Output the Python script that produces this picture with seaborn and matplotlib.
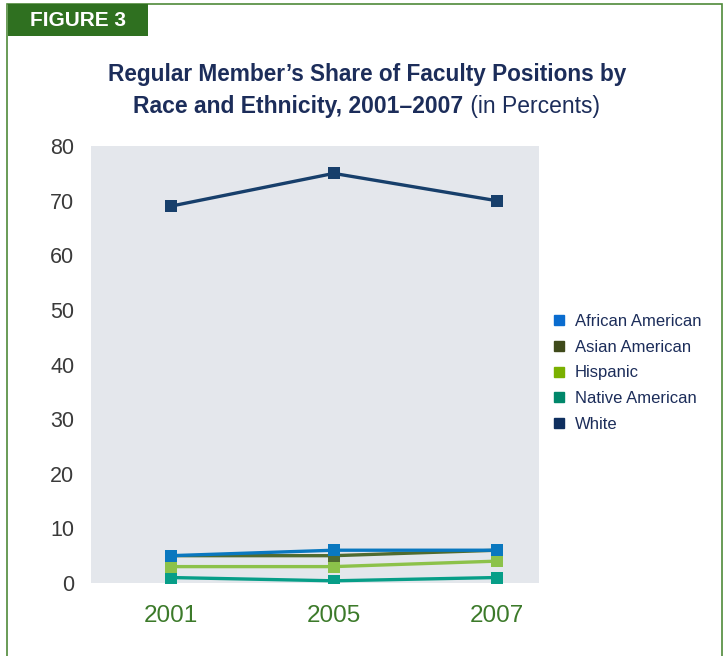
import numpy as np
import pandas as pd
import matplotlib.pyplot as plt
import seaborn as sns
from matplotlib.lines import Line2D
from matplotlib.patches import Rectangle

years = ["2001", "2005", "2007"]
groups = ["African American", "Asian American", "Hispanic", "Native American", "White"]
african_american = [5, 6, 6]
asian_american = [5, 5, 6]
hispanic = [3, 3, 4]
native_american = [1, 0.4, 1]
white = [69, 75, 70]

line_colors = ["#0a78bf", "#4f6b30", "#8cc24a", "#079e88", "#173f6b"]
legend_colors = ["#0a6ccf", "#3f4a1a", "#7ab000", "#00876a", "#0f2f5f"]

df = pd.DataFrame({
    "year": years * 5,
    "group": np.repeat(groups, 3),
    "share": african_american + asian_american + hispanic + native_american + white,
})

sns.set_theme(style="white")
plt.rcParams["font.family"] = ["Liberation Sans", "DejaVu Sans"]

fig = plt.figure(figsize=(7.25, 6.56), dpi=100)
ax = fig.add_axes([0.1255, 0.1113, 0.618, 0.666])
ax.set_facecolor("#e4e7ec")

# draw native first so blue/asian sit on top like the original
order = ["White", "Native American", "Hispanic", "Asian American", "African American"]
pal = dict(zip(groups, line_colors))
sns.lineplot(data=df, x="year", y="share", hue="group", hue_order=order, palette=pal,
             marker="s", markersize=9, markeredgewidth=0, linewidth=2.4, sort=False,
             legend=False, ax=ax)

ax.set_ylim(0, 80)
ax.set_xlim(-0.49, 2.26)
ax.set_yticks(range(0, 81, 10))
ax.set_xlabel("")
ax.set_ylabel("")
for s in ax.spines.values():
    s.set_visible(False)
ax.tick_params(axis="y", labelsize=15.5, labelcolor="#3a3a3a", length=0, pad=12)
ax.tick_params(axis="x", labelsize=17.5, labelcolor="#3c7a2a", length=0, pad=16)

handles = [Line2D([], [], marker="s", linestyle="none", markersize=7.5, color=c) for c in legend_colors]
leg = fig.legend(handles, groups, loc="upper left", bbox_to_anchor=(0.753, 0.5315),
                 frameon=False, fontsize=12, handlelength=0.8, handletextpad=0.55,
                 labelspacing=0.64, borderaxespad=0)
for t in leg.get_texts():
    t.set_color("#1c2d5a")

title_color = "#1c2d5a"
fig.text(0.506, 0.886, "Regular Member\u2019s Share of Faculty Positions by",
         ha="center", va="center", fontsize=16.3, fontweight="bold", color=title_color)
t2 = fig.text(0.184, 0.837, "Race and Ethnicity, 2001\u20132007",
              ha="left", va="center", fontsize=16.5, fontweight="bold", color=title_color)
ax.annotate(" (in Percents)", xy=(1, 0.5), xycoords=t2, ha="left", va="center",
            fontsize=16.5, color=title_color)

# frame and header badge
green = "#2f7020"
fig.patches.append(Rectangle((7 / 725, -0.01), 715 / 725, 1 - 4 / 656 + 0.01, transform=fig.transFigure,
                             fill=False, edgecolor="#4f8a3a", linewidth=1.2))
fig.patches.append(Rectangle((8 / 725, 1 - 36 / 656), 140 / 725, 32 / 656, transform=fig.transFigure,
                             facecolor=green, edgecolor="none"))
fig.text(78 / 725, 1 - 20 / 656, "FIGURE 3", ha="center", va="center", fontsize=15,
         fontweight="bold", color="white")

fig.savefig("out.png", dpi=100, facecolor="white")
